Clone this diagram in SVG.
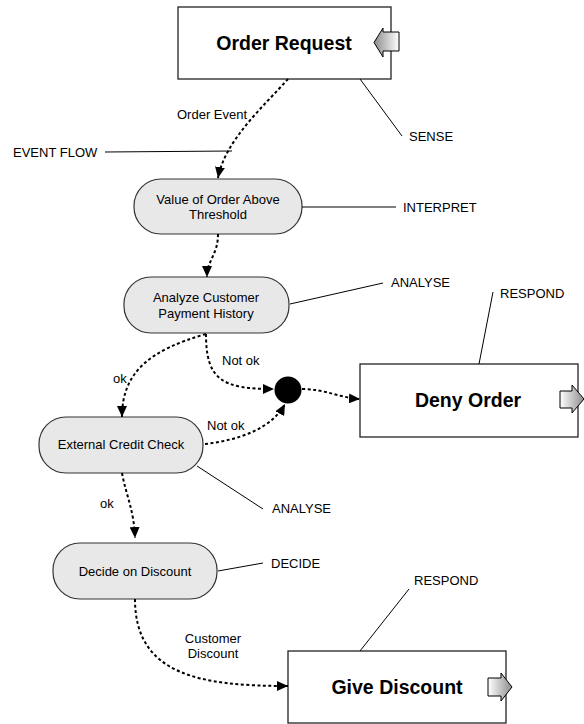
<svg xmlns="http://www.w3.org/2000/svg" width="584" height="724" viewBox="0 0 584 724">
  <defs>
    <marker id="head" markerUnits="userSpaceOnUse" markerWidth="12" markerHeight="10" refX="11" refY="5" orient="auto">
      <path d="M0,0 L11,5 L0,10 Z" fill="#000"/>
    </marker>
    <linearGradient id="gradR" x1="0" y1="0" x2="1" y2="0">
      <stop offset="0" stop-color="#ffffff"/>
      <stop offset="1" stop-color="#8c8c8c"/>
    </linearGradient>
    <linearGradient id="gradL" x1="1" y1="0" x2="0" y2="0">
      <stop offset="0" stop-color="#ffffff"/>
      <stop offset="1" stop-color="#8c8c8c"/>
    </linearGradient>
  </defs>
  <style>
    .box { fill: #ffffff; stroke: #222; stroke-width: 1.3; }
    .step { fill: #e8e8e8; stroke: #333; stroke-width: 1.2; }
    .title { font-family: "Liberation Sans", Arial, sans-serif; font-size: 19.5px; font-weight: bold; fill: #000; text-anchor: middle; }
    .lbl { font-family: "Liberation Sans", Arial, sans-serif; font-size: 13px; fill: #000; }
    .mid { text-anchor: middle; }
    .flow { fill: none; stroke: #000; stroke-width: 2; stroke-dasharray: 3 2.5; marker-end: url(#head); }
    .note { fill: none; stroke: #000; stroke-width: 1; }
    .port { stroke: #000; stroke-width: 1; }
  </style>
  <rect width="584" height="724" fill="#fff"/>

  <!-- event nodes -->
  <g id="order-request">
    <rect class="box" x="178" y="7" width="213" height="72"/>
    <text class="title" x="284" y="50">Order Request</text>
    <path class="port" fill="url(#gradL)" d="M399,32 L383,32 L383,28 L374,42.5 L383,57 L383,51 L399,51 Z"/>
  </g>

  <g id="value-threshold">
    <rect class="step" x="134" y="179" width="168" height="55" rx="27" ry="27"/>
    <text class="lbl mid" x="218" y="204">Value of Order Above</text>
    <text class="lbl mid" x="218" y="219">Threshold</text>
  </g>

  <g id="payment-history">
    <rect class="step" x="124" y="277" width="165" height="56" rx="27" ry="27"/>
    <text class="lbl mid" x="206" y="302">Analyze Customer</text>
    <text class="lbl mid" x="206" y="318">Payment History</text>
  </g>

  <g id="join">
    <circle cx="288" cy="390" r="13.5" fill="#000"/>
  </g>

  <g id="deny-order">
    <rect class="box" x="360" y="364" width="218" height="73"/>
    <text class="title" x="468" y="407">Deny Order</text>
    <path class="port" fill="url(#gradR)" d="M560,391 L572,391 L572,385 L584,399 L572,413 L572,408 L560,408 Z"/>
  </g>

  <g id="credit-check">
    <rect class="step" x="39" y="417" width="164" height="56" rx="27" ry="27"/>
    <text class="lbl mid" x="121" y="449">External Credit Check</text>
  </g>

  <g id="decide-discount">
    <rect class="step" x="53" y="543" width="164" height="56" rx="27" ry="27"/>
    <text class="lbl mid" x="135" y="576">Decide on Discount</text>
  </g>

  <g id="give-discount">
    <rect class="box" x="288" y="651" width="218" height="72"/>
    <text class="title" x="397" y="694">Give Discount</text>
    <path class="port" fill="url(#gradR)" d="M488,678 L501,678 L501,673 L512,687 L501,701 L501,696 L488,696 Z"/>
  </g>

  <!-- event flow connectors -->
  <g id="connectors">
    <path class="flow" d="M288,79 C265,105 225,140 218,178"/>
    <path class="flow" d="M218,234 C218,255 207,260 207,277"/>
    <path class="flow" d="M206,334 C150,350 122,372 122,417"/>
    <path class="flow" d="M206,334 C206,380 222,389 274,389"/>
    <path class="flow" d="M205,444 C240,440 272,428 285,404"/>
    <path class="flow" d="M302,389 C325,389 340,398 360,399"/>
    <path class="flow" d="M122,473 C126,495 134,510 135,538"/>
    <path class="flow" d="M135,599 C135,675 200,686 288,686"/>
  </g>

  <!-- annotation leaders -->
  <g id="annotations">
    <line class="note" x1="105" y1="152" x2="232" y2="151"/>
    <line class="note" x1="360" y1="79" x2="402" y2="136"/>
    <line class="note" x1="302" y1="207" x2="396" y2="207"/>
    <line class="note" x1="290" y1="304" x2="383" y2="283"/>
    <line class="note" x1="493" y1="292" x2="479" y2="364"/>
    <line class="note" x1="197" y1="466" x2="263" y2="509"/>
    <line class="note" x1="218" y1="571" x2="263" y2="563"/>
    <line class="note" x1="409" y1="589" x2="360" y2="651"/>
  </g>

  <!-- labels -->
  <g id="labels">
    <text class="lbl" x="177" y="119">Order Event</text>
    <text class="lbl" x="13" y="157">EVENT FLOW</text>
    <text class="lbl" x="409" y="141">SENSE</text>
    <text class="lbl" x="403" y="212">INTERPRET</text>
    <text class="lbl" x="391" y="287">ANALYSE</text>
    <text class="lbl" x="500" y="298">RESPOND</text>
    <text class="lbl" x="222" y="365">Not ok</text>
    <text class="lbl" x="113" y="383">ok</text>
    <text class="lbl" x="207" y="430">Not ok</text>
    <text class="lbl" x="100" y="508">ok</text>
    <text class="lbl" x="272" y="513">ANALYSE</text>
    <text class="lbl" x="271" y="568">DECIDE</text>
    <text class="lbl" x="414" y="585">RESPOND</text>
    <text class="lbl mid" x="213" y="643">Customer</text>
    <text class="lbl mid" x="213" y="658">Discount</text>
  </g>
</svg>
